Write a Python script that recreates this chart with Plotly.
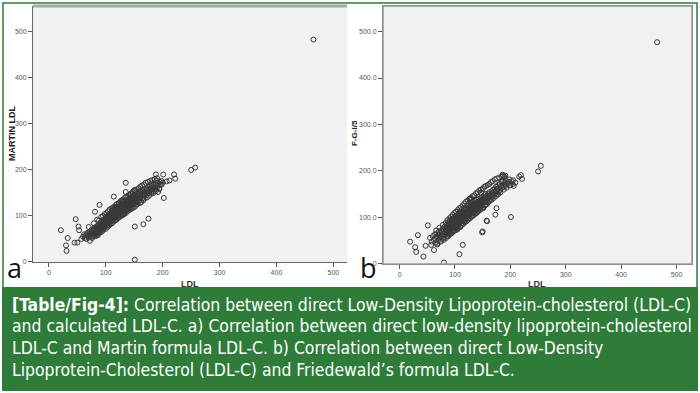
import plotly.graph_objects as go

W, H = 700, 393

# ---------------- data ----------------
# Panel a: direct LDL vs Martin LDL
ldl_a = [465, 257, 250, 220, 222, 212, 207, 202, 201, 188, 198, 189, 135, 151, 166, 175, 151, 114, 135, 150,
         129, 89, 81, 47, 21, 33, 30, 31, 45, 50, 52, 53, 57, 180,
         60, 62, 63, 65, 66, 67, 68, 69, 70, 71, 72, 73, 74, 75, 75, 76, 77, 78, 78, 79, 80, 80, 81, 82, 82, 83, 84, 84, 85, 85,
         86, 86, 87, 87, 88, 88, 89, 89, 90, 90, 91, 91, 92, 92, 93, 93, 94, 94, 95, 95, 96, 96, 97, 97, 98, 98, 99, 99, 100, 100,
         100, 101, 101, 102, 102, 103, 103, 104, 104, 105, 105, 106, 106, 107, 107, 108, 108, 109, 109, 110, 110, 111, 111, 112, 112, 113, 113, 114, 114, 115,
         115, 116, 116, 117, 117, 118, 118, 119, 119, 120, 120, 121, 121, 122, 122, 123, 123, 124, 124, 125, 125, 126, 126, 127, 127, 128, 128, 129, 129, 130,
         130, 130, 131, 131, 132, 132, 133, 133, 134, 134, 135, 135, 136, 136, 137, 137, 138, 138, 139, 139, 140, 140, 141, 141, 142, 142, 143, 143, 144, 145,
         145, 146, 146, 147, 147, 148, 148, 149, 150, 150, 151, 152, 152, 153, 154, 155, 155, 156, 157, 158, 158, 159, 160, 161, 162, 163, 164, 164, 165, 166,
         167, 168, 168, 170, 171, 172, 173, 174, 175, 176, 177, 178, 179, 180, 181, 182, 183, 184, 185, 186, 187, 188, 190, 191, 192, 194, 195, 196, 198, 200]
martin_a = [483, 205, 200, 190, 181, 177, 175, 139, 190, 190, 168, 177, 172, 77, 82, 94, 5, 142, 152, 156,
            134, 124, 109, 93, 69, 52, 36, 24, 42, 42, 77, 69, 50, 170,
            55, 60, 52, 58, 50, 62, 56, 64, 53, 60, 66, 58, 62, 55, 70, 64, 60, 68, 56, 72, 64, 58, 70, 62, 76, 68, 72, 60, 78, 66,
            74, 62, 80, 70, 76, 64, 82, 72, 78, 68, 86, 74, 80, 70, 88, 76, 82, 72, 90, 78, 84, 74, 92, 80, 86, 76, 94, 82, 88, 98,
            78, 92, 84, 96, 88, 100, 80, 92, 86, 102, 94, 88, 98, 84, 104, 94, 100, 88, 106, 96, 102, 90, 110, 98, 104, 92, 112, 100, 106, 96,
            110, 102, 116, 98, 108, 104, 114, 100, 110, 106, 118, 96, 112, 108, 120, 102, 114, 110, 98, 116, 106, 122, 112, 104, 118, 114, 124, 108, 120, 116,
            104, 126, 112, 120, 118, 130, 110, 124, 116, 128, 122, 112, 126, 118, 132, 114, 124, 120, 130, 116, 126, 136, 120, 130, 124, 138, 118, 132, 128, 122,
            136, 130, 142, 126, 134, 140, 128, 136, 132, 144, 126, 138, 146, 132, 142, 136, 148, 130, 144, 138, 150, 134, 146, 140, 152, 144, 138, 156, 148, 142,
            152, 146, 158, 150, 156, 146, 160, 152, 158, 150, 164, 156, 160, 152, 166, 158, 162, 154, 170, 164, 158, 168, 162, 172, 166, 160, 174, 168, 176, 172]
# wider edge of the panel-a cloud
ldl_a_edge = [70, 72, 76, 79, 82, 85, 86, 88, 90, 92, 93, 95, 96, 98, 100, 101, 103, 104, 106, 107,
              108, 110, 111, 112, 114, 115, 116, 118, 119, 120, 122, 123, 124, 126, 127, 128, 130, 131, 132, 134,
              135, 136, 138, 139, 140, 142, 143, 144, 146, 147, 148, 150, 151, 152, 154, 155, 156, 158, 160, 161,
              162, 164, 166, 167, 168, 170, 172, 174, 176, 178, 180, 182, 184, 186, 188, 190, 192, 194,
              105, 108, 112, 116, 120, 124, 128, 132, 136, 140, 144, 148, 152, 156, 160, 164, 118, 122, 126, 130]
martin_a_edge = [76, 46, 52, 84, 56, 92, 58, 90, 64, 98, 66, 100, 70, 104, 72, 106, 76, 110, 80, 114,
                 82, 116, 84, 118, 88, 120, 90, 124, 92, 126, 96, 128, 98, 132, 100, 134, 102, 136, 104, 140,
                 106, 142, 110, 144, 112, 146, 114, 148, 116, 152, 118, 154, 120, 156, 124, 158, 126, 160, 128, 164,
                 130, 166, 134, 168, 138, 172, 140, 174, 144, 176, 148, 178, 150, 180, 154, 182, 152, 158,
                 97, 103, 101, 107, 111, 117, 121, 123, 131, 133, 137, 141, 145, 149, 153, 147, 119, 97, 127, 131]

# Panel b: direct LDL vs Friedewald (F-G-I/5)
ldl_b = [465, 255, 250, 219, 221, 216, 187, 186, 189, 201, 149, 127, 114, 108, 80, 43, 19, 28, 30, 33,
         51, 47, 57, 158, 173, 175, 150, 157, 129, 147, 155, 205, 209, 199, 62, 68,
         55, 58, 60, 62, 64, 65, 66, 68, 69, 70, 71, 72, 73, 74, 75, 76, 77, 78, 78, 79, 80, 80, 81, 82, 83, 84, 85, 85, 86, 87,
         87, 88, 88, 89, 89, 90, 90, 91, 91, 92, 92, 93, 93, 94, 94, 95, 95, 96, 96, 97, 97, 98, 98, 99, 99, 100, 100, 100, 101, 101,
         102, 102, 103, 103, 104, 104, 105, 105, 106, 106, 107, 107, 108, 108, 109, 109, 110, 110, 111, 111, 112, 112, 113, 113, 114, 114, 115, 115, 116, 116,
         117, 117, 118, 118, 119, 119, 120, 120, 121, 121, 122, 122, 123, 123, 124, 124, 125, 125, 126, 126, 127, 127, 128, 128, 129, 129, 130, 130, 131, 131,
         132, 132, 133, 133, 134, 134, 135, 135, 136, 136, 137, 137, 138, 138, 139, 139, 140, 140, 141, 141, 142, 142, 143, 143, 144, 145, 145, 146, 146, 147,
         148, 148, 149, 150, 150, 151, 152, 152, 153, 154, 155, 156, 157, 158, 159, 160, 160, 161, 162, 163, 164, 165, 166, 167, 168, 169, 170, 171, 172, 173,
         174, 175, 176, 177, 178, 179, 180, 181, 182, 183, 184, 185, 186, 187, 188, 190, 191, 192, 194, 196, 198, 200, 202, 204, 206]
fgi5_b = [477, 211, 199, 191, 183, 188, 190, 192, 187, 101, 68, 141, 41, 21, 3, 16, 48, 36, 26, 62,
          83, 39, 41, 92, 106, 120, 70, 93, 140, 153, 151, 180, 175, 169, 30, 44,
          56, 48, 60, 52, 64, 46, 58, 66, 50, 62, 70, 56, 66, 48, 72, 60, 68, 54, 76, 64, 72, 58, 80, 68, 62, 76, 84, 66, 72, 60,
          82, 74, 90, 66, 80, 86, 72, 94, 78, 84, 68, 90, 76, 96, 82, 70, 88, 78, 98, 84, 72, 92, 80, 100, 86, 76, 94, 84, 102, 90,
          80, 96, 86, 104, 92, 74, 100, 88, 108, 82, 96, 90, 104, 86, 112, 94, 100, 80, 106, 92, 116, 98, 88, 108, 102, 94, 112, 98, 106, 120,
          92, 110, 102, 116, 96, 108, 122, 104, 112, 98, 118, 108, 126, 102, 114, 120, 106, 130, 112, 118, 100, 124, 116, 108, 122, 132, 112, 118, 126, 104,
          120, 134, 114, 126, 110, 130, 122, 136, 116, 128, 124, 108, 132, 120, 126, 138, 118, 130, 124, 112, 134, 128, 120, 140, 130, 124, 136, 118, 142, 132,
          126, 138, 144, 130, 138, 120, 142, 134, 148, 126, 140, 134, 146, 140, 132, 150, 142, 136, 154, 146, 140, 150, 156, 144, 152, 160, 148, 156, 162, 152,
          166, 158, 150, 162, 170, 156, 164, 172, 160, 168, 176, 164, 170, 178, 166, 174, 168, 180, 172, 176, 182, 170, 178, 172, 168]
# wider edge of the panel-b cloud
ldl_b_edge = [66, 68, 72, 75, 78, 80, 83, 84, 86, 88, 90, 91, 93, 94, 96, 97, 99, 100, 102, 103,
              105, 106, 108, 109, 111, 112, 114, 115, 117, 118, 120, 121, 123, 124, 126, 127, 129, 130, 132, 133,
              135, 136, 138, 139, 141, 142, 144, 145, 147, 148, 150, 151, 153, 154, 156, 157, 159, 160, 162, 163,
              165, 166, 168, 170, 172, 174, 176, 178, 180, 182, 185, 188, 191, 193,
              104, 108, 112, 116, 120, 124, 128, 132, 136, 140, 144, 148, 152, 156, 160, 100, 96, 92, 88, 84]
fgi5_b_edge = [72, 42, 78, 50, 84, 52, 88, 56, 94, 60, 98, 64, 102, 66, 106, 70, 110, 72, 112, 76,
               116, 78, 120, 80, 122, 84, 126, 86, 130, 90, 134, 92, 136, 96, 140, 98, 142, 102, 146, 104,
               148, 108, 152, 110, 154, 114, 158, 116, 160, 120, 162, 122, 166, 126, 168, 128, 170, 132, 172, 136,
               176, 138, 178, 142, 182, 146, 184, 150, 186, 154, 188, 160, 190, 164,
               96, 100, 104, 110, 108, 114, 118, 122, 126, 128, 132, 136, 140, 144, 146, 90, 86, 80, 78, 72]

tick_vals = [0, 100, 200, 300, 400, 500]
x_tick_text = ["0", "100", "200", "300", "400", "500"]
ya_tick_text = ["0", "100", "200", "300", "400", "500"]
yb_tick_text = ["0", "100.0", "200.0", "300.0", "400.0", "500.0"]

caption_lines = [
    "<b>[Table/Fig-4]:</b> Correlation between direct Low-Density Lipoprotein-cholesterol (LDL-C)",
    "and calculated LDL-C. a) Correlation between direct low-density lipoprotein-cholesterol",
    "LDL-C and Martin formula LDL-C. b) Correlation between direct Low-Density",
    "Lipoprotein-Cholesterol (LDL-C) and Friedewald\u2019s formula LDL-C.",
]

# ---------------- helpers ----------------
def px(x):
    return x / W

def py(y):
    return 1 - y / H

GREEN = "#2f7b3a"
MARK = dict(symbol="circle-open", size=5, color="#383838", line=dict(width=1, color="#383838"))

fig = go.Figure()
fig.add_trace(go.Scatter(x=ldl_a + ldl_a_edge, y=martin_a + martin_a_edge, mode="markers", marker=MARK,
                         xaxis="x", yaxis="y", showlegend=False, hoverinfo="skip"))
fig.add_trace(go.Scatter(x=ldl_b + ldl_b_edge, y=fgi5_b + fgi5_b_edge, mode="markers", marker=MARK,
                         xaxis="x2", yaxis="y2", showlegend=False, hoverinfo="skip"))

axis_common = dict(showgrid=False, zeroline=False, ticks="outside", ticklen=4, tickwidth=1,
                   tickcolor="#555", showline=True, linecolor="#666", linewidth=1,
                   tickfont=dict(family="Liberation Sans, Arial", size=7, color="#555"),
                   tickmode="array", tickvals=tick_vals)

fig.update_layout(
    width=W, height=H, margin=dict(l=0, r=0, t=0, b=0),
    paper_bgcolor="white", plot_bgcolor="#f1f1f1",
    xaxis=dict(axis_common, domain=[px(33), px(347)], range=[-28, 524], ticktext=x_tick_text, anchor="y"),
    yaxis=dict(axis_common, domain=[py(264), py(6)], range=[0, 556], ticktext=ya_tick_text, anchor="x"),
    xaxis2=dict(axis_common, domain=[px(383), px(692)], range=[-30, 528], ticktext=x_tick_text, anchor="y2",
                mirror=True),
    yaxis2=dict(axis_common, domain=[py(266), py(6)], range=[0, 555], ticktext=yb_tick_text, anchor="x2",
                mirror=True),
)

shapes = []
shapes.append(dict(type="line", xref="paper", yref="paper", x0=px(33), x1=px(347), y0=py(6), y1=py(6),
                   line=dict(color="#a8a8a8", width=3)))
shapes.append(dict(type="rect", xref="paper", yref="paper", x0=px(383), x1=px(692), y0=py(266), y1=py(6),
                   line=dict(color="#9a9a9a", width=1.5)))
shapes.append(dict(type="rect", xref="paper", yref="paper", x0=px(3), x1=px(697), y0=py(392), y1=py(3),
                   line=dict(color=GREEN, width=1.5)))
fig.update_layout(shapes=shapes)

ann = []
ann.append(dict(text="<b>MARTIN LDL</b>", textangle=-90, x=px(12), y=py(135), xref="paper", yref="paper",
                xanchor="center", yanchor="middle",
                showarrow=False, font=dict(family="Liberation Sans, Arial", size=9, color="#222")))
ann.append(dict(text="<b>F-G-I/5</b>", textangle=-90, x=px(355), y=py(134), xref="paper", yref="paper",
                xanchor="center", yanchor="middle",
                showarrow=False, font=dict(family="Liberation Sans, Arial", size=8, color="#222")))
for cx in (190, 537):
    ann.append(dict(text="<b>LDL</b>", x=px(cx), y=py(286), xref="paper", yref="paper", showarrow=False,
                    xanchor="center", yanchor="middle",
                    font=dict(family="Liberation Sans, Arial", size=9, color="#333")))
ann.append(dict(text="a", x=px(5), y=py(270), xref="paper", yref="paper", xanchor="left", yanchor="middle",
                showarrow=False, font=dict(family="Open Sans", size=27, color="#111")))
ann.append(dict(text="b", x=px(358), y=py(270), xref="paper", yref="paper", xanchor="left", yanchor="middle",
                showarrow=False, font=dict(family="Open Sans", size=27, color="#111")))
# caption box (drawn after the LDL titles so it covers their lower part)
ann.append(dict(text=" ", x=px(2), y=py(289), xref="paper", yref="paper", xanchor="left", yanchor="top",
                width=696, height=104, bgcolor=GREEN, borderpad=0, borderwidth=0, showarrow=False,
                font=dict(size=10)))
for i, line in enumerate(caption_lines):
    ann.append(dict(text=line, x=px(10), y=py(307 + 22 * i), xref="paper", yref="paper",
                    xanchor="left", yanchor="middle", showarrow=False, align="left",
                    font=dict(family="DejaVu Sans Condensed, Liberation Sans", size=17.4, color="white")))
fig.update_layout(annotations=ann)

fig.write_html("out.html", config={"displayModeBar": False},
               post_script="document.body.style.margin='0';document.body.style.overflow='hidden';")
